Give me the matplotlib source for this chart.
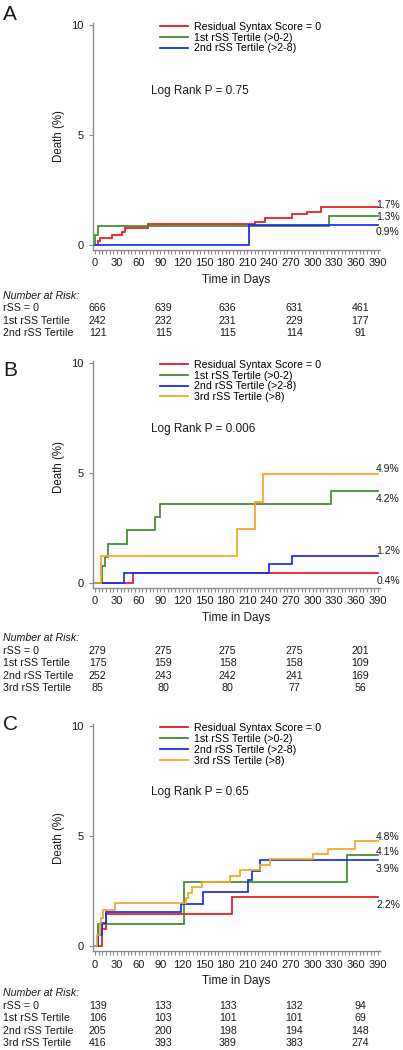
import numpy as np
import matplotlib
matplotlib.use("Agg")
import matplotlib.pyplot as plt
import matplotlib.transforms as mtransforms

plt.rcParams['font.family'] = ['Liberation Sans', 'DejaVu Sans']

# ---------------- data ----------------
series_names = ["Residual Syntax Score = 0", "1st rSS Tertile (>0-2)",
                "2nd rSS Tertile (>2-8)", "3rd rSS Tertile (>8)"]
series_colors = ["#e8161e", "#3f8a2c", "#1a2cf5", "#f5a524"]

# Panel A
a_red_t = [0, 4.5, 7, 23, 37, 41, 73, 220, 235, 272, 292, 311, 390]
a_red_y = [0, 0.2, 0.3, 0.45, 0.58, 0.76, 0.95, 1.06, 1.21, 1.4, 1.51, 1.72, 1.72]
a_green_t = [0, 0, 3.5, 322, 390]
a_green_y = [0, 0.45, 0.87, 1.3, 1.3]
a_blue_t = [0, 212, 390]
a_blue_y = [0, 0.91, 0.91]
a_end_labels = ["1.7%", "1.3%", "0.9%"]
a_pval = "Log Rank P = 0.75"
a_risk_labels = ["rSS = 0", "1st rSS Tertile", "2nd rSS Tertile"]
a_risk = [[666, 639, 636, 631, 461],
          [242, 232, 231, 229, 177],
          [121, 115, 115, 114, 91]]

# Panel B
b_red_t = [0, 52, 390]
b_red_y = [0, 0.44, 0.44]
b_green_t = [0, 9, 13, 18, 44, 83, 90, 325, 390]
b_green_y = [0, 0.75, 1.2, 1.75, 2.4, 3.0, 3.6, 4.2, 4.2]
b_blue_t = [0, 40, 240, 272, 390]
b_blue_y = [0, 0.44, 0.85, 1.24, 1.24]
b_orange_t = [0, 8, 196, 220, 232, 390]
b_orange_y = [0, 1.24, 2.45, 3.67, 4.94, 4.94]
b_end_labels = ["0.4%", "4.2%", "1.2%", "4.9%"]
b_pval = "Log Rank P = 0.006"
b_risk_labels = ["rSS = 0", "1st rSS Tertile", "2nd rSS Tertile", "3rd rSS Tertile"]
b_risk = [[279, 275, 275, 275, 201],
          [175, 159, 158, 158, 109],
          [252, 243, 242, 241, 169],
          [85, 80, 80, 77, 56]]

# Panel C
c_red_t = [0, 9, 15, 189, 390]
c_red_y = [0, 0.8, 1.48, 2.25, 2.25]
c_green_t = [0, 4, 123, 347, 390]
c_green_y = [0, 1.0, 2.95, 4.15, 4.15]
c_blue_t = [0, 4, 9, 15, 119, 149, 211, 217, 228, 390]
c_blue_y = [0, 0.5, 1.05, 1.55, 1.95, 2.47, 3.0, 3.45, 3.93, 3.93]
c_orange_t = [0, 2, 6, 8, 11, 28, 125, 128, 134, 148, 186, 200, 227, 241, 301, 321, 358, 390]
c_orange_y = [0, 0.5, 1.05, 1.28, 1.66, 1.99, 2.22, 2.45, 2.69, 2.95, 3.2, 3.48, 3.72, 3.96, 4.2, 4.43, 4.8, 4.8]
c_end_labels = ["2.2%", "4.1%", "3.9%", "4.8%"]
c_pval = "Log Rank P = 0.65"
c_risk_labels = ["rSS = 0", "1st rSS Tertile", "2nd rSS Tertile", "3rd rSS Tertile"]
c_risk = [[139, 133, 133, 132, 94],
          [106, 103, 101, 101, 69],
          [205, 200, 198, 194, 148],
          [416, 393, 389, 383, 274]]

risk_days = [3.5, 94, 183, 275, 366]

# ---------------- figure ----------------
W, H = 403, 1050
fig = plt.figure(figsize=(W / 100, H / 100), dpi=100)

grey = "#8a8a8a"
txt = "#1a1a1a"


def draw_panel(letter, top_px, bottom_px, curves, end_labels, end_dy,
               pval, risk_labels, risk, header_gap, letter_y, ylab_y=0.5):
    left_px, right_px = 93, 380
    ax = fig.add_axes([left_px / W, 1 - bottom_px / H,
                       (right_px - left_px) / W, (bottom_px - top_px) / H])
    for i, (t, y) in enumerate(curves):
        ax.step(t, y, where='post', color=series_colors[i], lw=1.25,
                label=series_names[i], solid_joinstyle='miter')
        ax.annotate(end_labels[i], xy=(390, y[-1]), xytext=(22, end_dy[i]),
                    textcoords='offset pixels', ha='right', va='center',
                    fontsize=7.5, color=txt, annotation_clip=False)
    ax.set_xlim(-3, 393)
    ax.set_ylim(-0.22, 10.1)
    for s in ['top', 'right']:
        ax.spines[s].set_visible(False)
    for s in ['left', 'bottom']:
        ax.spines[s].set_color(grey)
        ax.spines[s].set_linewidth(1.0)
    ax.set_yticks([0, 5, 10])
    ax.set_xticks(np.arange(0, 391, 30))
    ax.set_xticks(np.arange(0, 391, 5), minor=True)
    ax.tick_params(axis='both', which='both', colors=grey, labelcolor=txt,
                   labelsize=8, length=3, width=0.8)
    ax.tick_params(axis='x', pad=3)
    ax.tick_params(axis='y', pad=4)
    ax.set_ylabel("Death (%)", fontsize=8.3, color=txt)
    ax.yaxis.set_label_coords(-0.098, ylab_y)
    ax.set_xlabel("Time in Days", fontsize=8.5, color=txt, labelpad=4)
    leg = ax.legend(loc='upper left', bbox_to_anchor=(0.233, 1.005),
                    frameon=False, fontsize=7.7, handlelength=2.6,
                    handletextpad=0.6, labelspacing=0.08, borderpad=0,
                    borderaxespad=0)
    for line in leg.get_lines():
        line.set_linewidth(1.3)
    ax.text(0.202, 0.70, pval, transform=ax.transAxes, fontsize=8.5,
            color=txt, va='center', ha='left')
    fig.text(3 / W, 1 - letter_y / H, letter, fontsize=15, color=txt,
             va='center', ha='left')

    # number at risk table
    trans = mtransforms.blended_transform_factory(ax.transData, fig.transFigure)
    y0 = bottom_px + header_gap
    fig.text(3 / W, 1 - y0 / H, "Number at Risk:", fontsize=7.7,
             style='italic', color=txt, va='center')
    for r, (lab, vals) in enumerate(zip(risk_labels, risk)):
        yy = 1 - (y0 + 12.5 + r * 12.4) / H
        fig.text(3 / W, yy, lab, fontsize=7.7, color=txt, va='center')
        for d, v in zip(risk_days, vals):
            ax.text(d, yy, str(v), transform=trans, fontsize=7.7,
                    color=txt, ha='center', va='center')
    return ax


draw_panel("A", 22.8, 249.8,
           [(a_red_t, a_red_y), (a_green_t, a_green_y), (a_blue_t, a_blue_y)],
           a_end_labels, [2, -1, -7], a_pval, a_risk_labels, a_risk, 46, 15)
draw_panel("B", 360.8, 587.8,
           [(b_red_t, b_red_y), (b_green_t, b_green_y), (b_blue_t, b_blue_y),
            (b_orange_t, b_orange_y)],
           b_end_labels, [-7.5, -8.5, 5, 5], b_pval, b_risk_labels, b_risk, 50.5, 370,
           ylab_y=0.53)
draw_panel("C", 724.3, 951.3,
           [(c_red_t, c_red_y), (c_green_t, c_green_y), (c_blue_t, c_blue_y),
            (c_orange_t, c_orange_y)],
           c_end_labels, [-8, 3.5, -8.5, 4], c_pval, c_risk_labels, c_risk, 42, 725)

fig.savefig("out.png", dpi=100)
